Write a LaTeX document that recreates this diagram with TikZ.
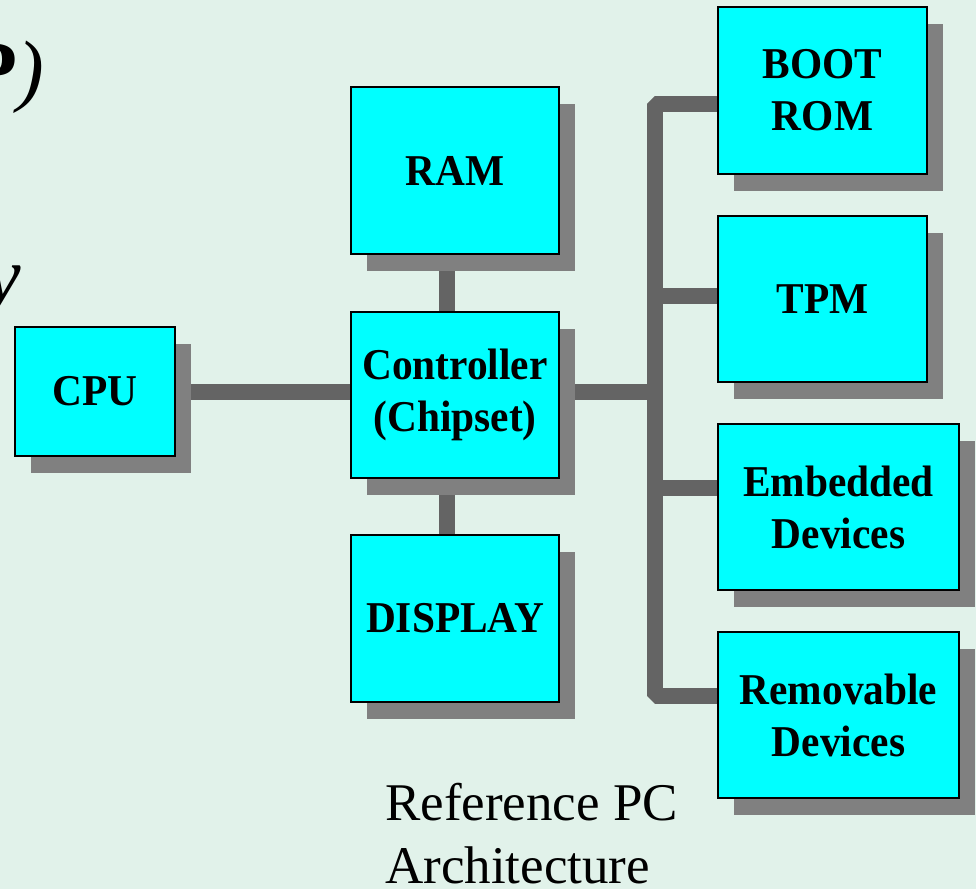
\documentclass[tikz,border=0pt]{standalone}
\usepackage{fontspec}
\setmainfont{Liberation Serif}
\newfontfamily\boxfont[FakeStretch=0.94]{Liberation Serif}
\usetikzlibrary{shadows}
\definecolor{bgc}{HTML}{E1F2EA}
\definecolor{boxc}{HTML}{00FFFF}
\definecolor{shc}{HTML}{808080}
\definecolor{linec}{HTML}{646464}
\pgfdeclarelayer{bglayer}
\pgfdeclarelayer{linelayer}
\pgfsetlayers{bglayer,linelayer,main}
\tikzset{
  blk/.style={draw=black, line width=1.5pt, fill=boxc, inner sep=0pt, align=center,
    font=\boxfont\bfseries\fontsize{44}{52}\selectfont,
    drop shadow={shadow xshift=16pt, shadow yshift=-17pt, fill=shc, opacity=1, draw=none}},
  bus/.style={draw=linec, line width=16pt, line join=bevel},
  captxt/.style={anchor=base west, inner sep=0pt, font=\fontsize{53}{64}\selectfont},
  titletxt/.style={anchor=base east, inner sep=0pt, font=\fontsize{80}{84}\selectfont}
}
\begin{document}
\begin{tikzpicture}[x=1pt,y=-1pt]
\useasboundingbox (0,0) rectangle (976,889);
\begin{pgfonlayer}{bglayer}
  \fill[bgc] (0,0) rectangle (976,889);
\end{pgfonlayer}

% fragments of the slide title
\node[titletxt] (ttl) at (44,96) {\textbf{P}\textit{)}};
\node[titletxt] (ttly) at (21,302) {\textit{y}};

% blocks
\node[blk, minimum width=160pt, minimum height=129pt] (cpu)  at (95,391.5) {CPU};
\node[blk, minimum width=208pt, minimum height=167pt] (ram)  at (455,170.5) {RAM};
\node[blk, minimum width=208pt, minimum height=166pt] (ctrl) at (455,395) {Controller\\(Chipset)};
\node[blk, minimum width=208pt, minimum height=167pt] (disp) at (455,618.5) {DISPLAY};
\node[blk, minimum width=209pt, minimum height=167pt] (boot) at (822.5,90.5) {BOOT\\ROM};
\node[blk, minimum width=209pt, minimum height=166pt] (tpm)  at (822.5,299) {TPM};
\node[blk, minimum width=241pt, minimum height=166pt] (emb)  at (838.5,507) {Embedded\\Devices};
\node[blk, minimum width=241pt, minimum height=166pt] (rem)  at (838.5,715) {Removable\\Devices};

% caption
\node[captxt] (cap1) at (385,820) {Reference PC};
\node[captxt] (cap2) at (385,883) {Architecture};

% bus coordinates
\coordinate (bt) at (655,104);
\coordinate (bb) at (655,695.5);
\coordinate (bm) at (655,392);
\coordinate (btpm) at (655,295.5);
\coordinate (bemb) at (655,487.5);
\coordinate (vx) at (447,0);

\begin{pgfonlayer}{linelayer}
  \draw[bus] (boot.west |- bt) -- (bt) -- (bb) -- (rem.west |- bb);
  \draw[bus] (btpm) -- (tpm.west |- btpm);
  \draw[bus] (bemb) -- (emb.west |- bemb);
  \draw[bus] (cpu.east |- bm) -- (bm);
  \draw[bus] (ram.south -| vx) -- (disp.north -| vx);
\end{pgfonlayer}
\end{tikzpicture}
\end{document}
